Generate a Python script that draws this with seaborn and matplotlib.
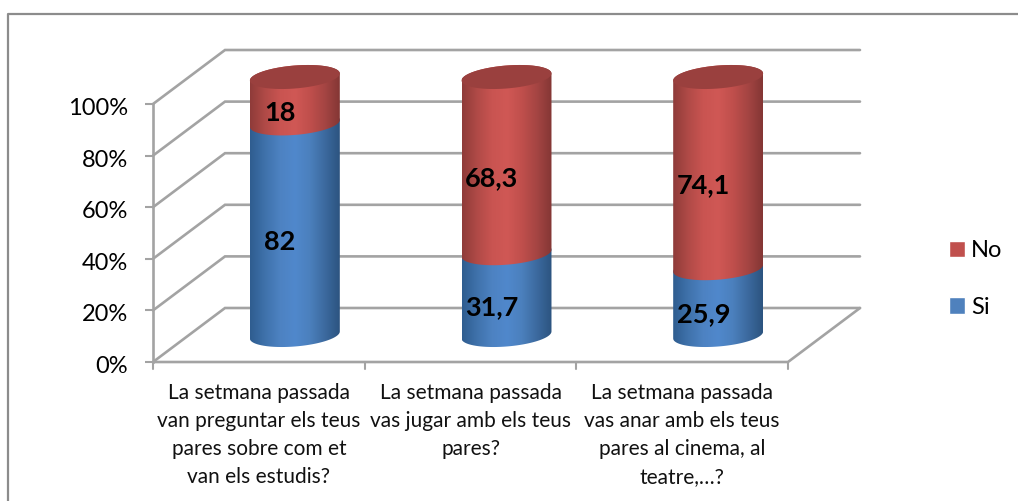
import numpy as np
import matplotlib
matplotlib.use("Agg")
import matplotlib.pyplot as plt
import seaborn as sns
from matplotlib.colors import LinearSegmentedColormap
from matplotlib.lines import Line2D
from matplotlib.patches import Patch, PathPatch
from matplotlib.path import Path
from matplotlib.transforms import Affine2D

# Data
preguntes = [
    "La setmana passada\nvan preguntar els teus\npares sobre com et\nvan els estudis?",
    "La setmana passada\nvas jugar amb els teus\npares?",
    "La setmana passada\nvas anar amb els teus\npares al cinema, al\nteatre,…?",
]
si = [82, 31.7, 25.9]
no = [18, 68.3, 74.1]
si_labels = ["82", "31,7", "25,9"]
no_labels = ["18", "68,3", "74,1"]
y_ticks = [0, 20, 40, 60, 80, 100]

W, H = 1018, 501
sns.set_theme(style="white")
plt.rcParams["font.family"] = ["Lato", "DejaVu Sans"]

GRIS = "#a3a3a3"
BLAU = "#4f81bd"
VERMELL = "#c0504d"

fig = plt.figure(figsize=(W / 100, H / 100), dpi=100, facecolor="white")

# front plane of the fake 3D box, in pixels
left, right, top, bottom = 153, 788, 104, 362
ax = fig.add_axes([left / W, 1 - bottom / H, (right - left) / W, (bottom - top) / H])
ax.patch.set_alpha(0)

sns.barplot(x=preguntes, y=si, color=BLAU, width=0.425, ax=ax)
sns.barplot(x=preguntes, y=no, bottom=si, color=VERMELL, width=0.425, ax=ax)
ax.set_xlim(-0.5, 2.5)
ax.set_ylim(0, 100)

# depth of the box in data units (72 px right, 54 px up)
dx = 72 / ((right - left) / 3)
dy = 54 / ((bottom - top) / 100)
# ellipse of the cylinders
elipse_b = 11.5 / ((bottom - top) / 100)
elipse_s = 3.5 / ((bottom - top) / 100)

# back wall, side wall and floor
for t in y_ticks:
    ax.plot([-0.5, -0.5 + dx, 2.5 + dx], [t, t + dy, t + dy], color=GRIS, lw=1.9,
            clip_on=False, zorder=1, solid_joinstyle="miter")
ax.plot([-0.5, 2.5, 2.5 + dx], [0, 0, dy], color=GRIS, lw=1.9, clip_on=False, zorder=1)

ax.set_yticks(y_ticks)
ax.set_yticklabels([f"{t}%" for t in y_ticks], fontsize=17, color="black")
ax.set_xticks([0, 1, 2])
ax.set_xticklabels(preguntes, fontsize=15, color="#111111", linespacing=1.5)
ax.tick_params(axis="y", length=6, width=1.5, color=GRIS, pad=12, left=True)
ax.tick_params(axis="x", length=0, pad=15)
# y labels sit a bit below their ticks in the original
for lab in ax.get_yticklabels():
    lab.set_transform(lab.get_transform() + Affine2D().translate(0, -2.5))
for pos in [-0.5, 0.5, 1.5, 2.5]:
    ax.plot([pos, pos], [0, -2.6], color=GRIS, lw=1.5, clip_on=False, zorder=1)
for s in ["top", "right", "bottom"]:
    ax.spines[s].set_visible(False)
ax.spines["left"].set_color(GRIS)
ax.spines["left"].set_linewidth(1.9)


def arc(xc, yc, r, t0, t1):
    t = np.linspace(t0, t1, 60)
    return np.column_stack([xc + r * np.cos(t), yc + elipse_b * np.sin(t) + elipse_s * np.cos(t)])


def gradient(colors):
    return LinearSegmentedColormap.from_list("c", colors)


cmaps = {
    BLAU: gradient(["#2f5d90", "#3f72ab", "#4d82c2", "#5088cc", "#4b80bd", "#3c6a9f", "#2c5480"]),
    VERMELL: gradient(["#8f3b39", "#b04a47", "#c95451", "#d05855", "#c04f4c", "#a54543", "#843634"]),
}
rampa = np.linspace(0, 1, 200).reshape(1, -1)

# the bars from seaborn give the geometry of each cylinder piece
bars = list(ax.patches)
for i, bar in enumerate(bars):
    xc = bar.get_x() + bar.get_width() / 2 + dx / 2
    r = bar.get_width() / 2
    y0 = bar.get_y() + dy / 2
    y1 = y0 + bar.get_height()
    cmap = cmaps[BLAU] if i < 3 else cmaps[VERMELL]
    verts = np.vstack([arc(xc, y0, r, np.pi, 2 * np.pi), arc(xc, y1, r, 0, np.pi)])
    clip = Path(np.vstack([verts, verts[0]]), closed=True)
    im = ax.imshow(rampa, extent=[xc - r, xc + r, y0 - 8, y1 + 8], cmap=cmap, aspect="auto",
                   zorder=3 + i, origin="lower")
    im.set_clip_path(clip, transform=ax.transData)
    im.set_clip_box(fig.bbox)
    bar.set_visible(False)
    if i >= 3:
        lid = Path(arc(xc, y1, r, 0, 2 * np.pi), closed=True)
        ax.add_patch(PathPatch(lid, facecolor="#9a403e", edgecolor="none", zorder=10, clip_on=False))

# value labels
for bar, txt in zip(bars, si_labels + no_labels):
    ax.text(bar.get_x() + bar.get_width() / 2 + 0.1, bar.get_y() + bar.get_height() / 2 + 5.5, txt,
            ha="center", va="center", fontsize=19.5, fontweight="bold", color="black", zorder=12)

ax.set_xlim(-0.5, 2.5)
ax.set_ylim(0, 100)

handles = [Patch(facecolor=VERMELL, label="No"), Patch(facecolor=BLAU, label="Si")]
fig.legend(handles=handles, loc="center left", bbox_to_anchor=(928 / W, 1 - 279 / H), frameon=False,
           fontsize=17, handlelength=0.68, handleheight=0.68, handletextpad=0.25, labelspacing=1.5,
           labelcolor="black", borderpad=0, borderaxespad=0.9)

# outer chart frame, only left and top lines
fig.add_artist(Line2D([7.5 / W, 7.5 / W, 1], [0, 1 - 14 / H, 1 - 14 / H], color="#8c8c8c", lw=1.6,
                      transform=fig.transFigure))

fig.savefig("out.png", dpi=100)
